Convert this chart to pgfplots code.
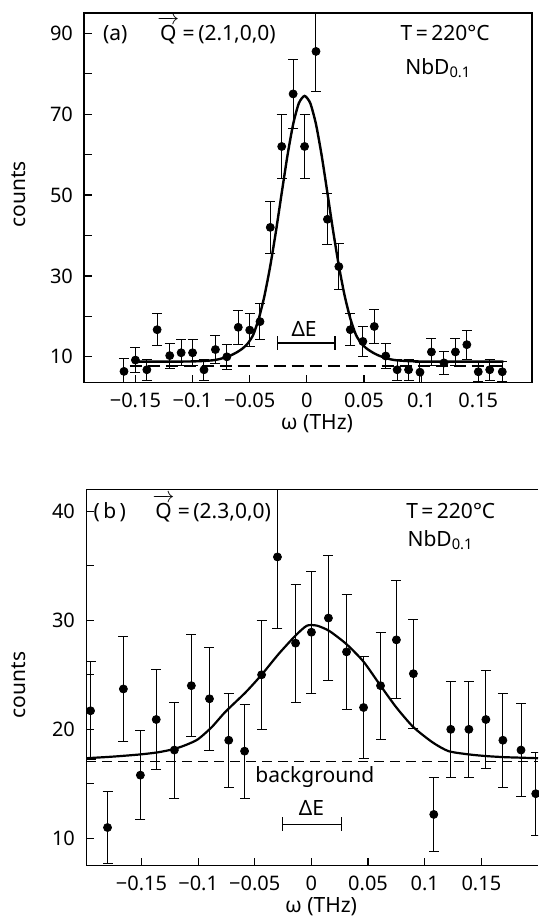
\documentclass[border=0pt]{standalone}
\usepackage{fontspec}
\setmainfont{Noto Sans}
\usepackage{amsmath}
\usepackage{pgfplots}
\pgfplotsset{compat=1.18}

\pgfplotsset{
  panel/.style={
    scale only axis,
    font=\fontsize{10.5}{12}\selectfont,
    tick label style={font=\fontsize{10}{11}\selectfont},
    /pgf/number format/assume math mode=true,
    tick align=inside,
    major tick length=4pt, minor tick length=4pt,
    tick style={line width=0.6pt, black},
    axis line style={line width=0.8pt},
    xtick pos=left, ytick pos=left,
    xtick={-0.15,-0.1,-0.05,0,0.05,0.1,0.15},
    xticklabels={−0.15,−0.1,−0.05,0,0.05,0.1,0.15},
    xticklabel style={yshift=-1.5pt},
    yticklabel style={xshift=-2pt},
    xlabel={ω (THz)}, ylabel={counts},
    xlabel style={at={(axis description cs:0.52,0)}, anchor=center, yshift=-20.3pt},
  },
  pts/.style={only marks, mark=*, mark size=2pt, black,
    error bars/.cd, y dir=both, y explicit,
    error bar style={line width=0.5pt},
    error mark=|,
    error mark options={mark size=2.5pt, line width=0.5pt}},
}

\begin{document}
\begin{tikzpicture}
\useasboundingbox (0,0) rectangle (269pt,459pt);

% (a)
\begin{axis}[panel,
  at={(42pt,267.65pt)}, anchor=south west,
  width=224pt, height=184.85pt,
  xmin=-0.195, xmax=0.197, ymin=3.6, ymax=95,
  ytick={10,30,50,70,90}, minor ytick={20,40,60,80},
  ylabel style={at={(axis description cs:-0.145,0.51)}, anchor=center},
]
\addplot[pts] table[x=x, y=y, y error=e] {
x y e
-0.160 6.4 3.2
-0.150 9.2 3.0
-0.140 6.8 2.6
-0.131 16.7 4.0
-0.120 10.3 3.1
-0.110 11.0 3.2
-0.100 11.0 3.2
-0.090 6.8 2.6
-0.080 11.8 3.4
-0.070 10.0 3.1
-0.060 17.3 4.2
-0.050 16.6 4.0
-0.041 18.7 4.5
-0.032 42.0 6.4
-0.022 62.0 7.8
-0.012 75.0 8.5
-0.002 62.0 7.8
0.008 85.5 9.8
0.018 44.0 6.3
0.028 32.3 5.6
0.038 16.7 4.0
0.049 13.8 3.7
0.059 17.5 4.2
0.069 10.2 3.1
0.079 6.8 2.6
0.089 6.8 2.6
0.099 6.2 2.5
0.109 11.2 3.3
0.120 8.5 2.9
0.130 11.2 3.3
0.140 13.0 3.6
0.150 6.3 2.5
0.160 6.8 2.6
0.171 6.3 2.5
};
\addplot[black, line width=1.2pt, smooth, tension=0.4] coordinates {
(-0.147,8.8) (-0.122,8.8) (-0.102,8.85) (-0.092,8.95) (-0.082,9.15)
(-0.077,9.4) (-0.072,9.8) (-0.067,10.3) (-0.062,11.0) (-0.057,11.9)
(-0.052,13.2) (-0.047,15.4) (-0.042,19.5) (-0.037,25.2) (-0.032,32.5)
(-0.027,41.1) (-0.022,50.5) (-0.017,59.7) (-0.012,67.5) (-0.007,72.7)
(-0.002,74.5) (0.003,72.7) (0.008,67.5) (0.013,59.7) (0.018,50.5)
(0.023,41.1) (0.028,32.5) (0.033,25.2) (0.038,19.5) (0.043,15.4)
(0.048,13.2) (0.053,11.9) (0.058,11.0) (0.063,10.3) (0.068,9.8)
(0.073,9.4) (0.078,9.15) (0.088,8.95) (0.098,8.85) (0.118,8.8) (0.172,8.8)
};
\addplot[black, line width=0.8pt, dash pattern=on 6pt off 3pt] coordinates {(-0.155,7.8) (0.175,7.8)};
\draw[line width=0.7pt, |-|] (axis cs:-0.0262,13.4) -- (axis cs:0.0253,13.4);
\node at (axis cs:-0.0024,16.8) {ΔE};
\node[anchor=base] at (axis cs:-0.1676,88.3) {(a)};
\node[anchor=base] at (axis cs:-0.079,88.3) {$\overrightarrow{\text{Q}}$\,=\,(2.1,0,0)};
\node[anchor=base] at (axis cs:0.121,88.3) {T\,=\,220°C};
\node[anchor=base] at (axis cs:0.115,79.9) {NbD\textsubscript{0.1}};
\end{axis}

% (b)
\begin{axis}[panel,
  at={(43pt,26.15pt)}, anchor=south west,
  width=226pt, height=188.2pt,
  xmin=-0.199, xmax=0.2, ymin=7.5, ymax=42,
  ytick={10,20,30,40}, minor ytick={15,25,35},
  axis line style={draw=none},
  ylabel style={at={(axis description cs:-0.148,0.48)}, anchor=center},
]
\draw[line width=0.8pt] (rel axis cs:1,1) -- (rel axis cs:0,1) -- (rel axis cs:0,0) -- (rel axis cs:1,0);
\addplot[pts] table[x=x, y=y, y error=e] {
x y e
-0.195 21.7 4.5
-0.180 11.0 3.3
-0.166 23.7 4.8
-0.151 15.8 4.1
-0.137 20.9 4.6
-0.121 18.1 4.4
-0.106 24.0 4.7
-0.090 22.8 4.7
-0.073 19.0 4.3
-0.059 18.0 4.3
-0.044 25.0 5.0
-0.030 35.8 6.6
-0.014 27.9 5.4
0.000 28.9 5.6
0.015 30.2 5.7
0.031 27.1 5.3
0.046 22.0 4.7
0.061 24.0 4.9
0.075 28.2 5.4
0.090 25.1 5.0
0.108 12.2 3.4
0.123 20.0 4.4
0.139 20.0 4.4
0.154 20.9 4.5
0.169 19.0 4.3
0.185 18.1 4.3
0.198 14.1 3.8
};
\addplot[black, line width=1.1pt, smooth, tension=0.4] coordinates {
(-0.199,17.35) (-0.175,17.5) (-0.151,17.7) (-0.135,17.9) (-0.121,18.2)
(-0.110,18.6) (-0.100,19.1) (-0.088,20.2) (-0.076,21.6) (-0.058,23.4)
(-0.044,25.0) (-0.029,26.9) (-0.014,28.6) (-0.004,29.5) (0.005,29.5)
(0.016,29.0) (0.031,27.8) (0.046,26.2) (0.061,24.0) (0.075,22.0)
(0.090,20.2) (0.107,18.8) (0.121,18.0) (0.139,17.7) (0.154,17.55)
(0.170,17.45) (0.185,17.4) (0.200,17.35)
};
\addplot[black, line width=0.9pt, dash pattern=on 5pt off 3pt] coordinates {(-0.199,17.05) (0.2,17.05)};
\node at (axis cs:0.003,15.6) {background};
\draw[line width=0.7pt, |-|] (axis cs:-0.026,11.3) -- (axis cs:0.0274,11.3);
\node at (axis cs:0.0,12.8) {ΔE};
\node[anchor=base] at (axis cs:-0.178,39.35) {(\,b\,)};
\node[anchor=base] at (axis cs:-0.088,39.35) {$\overrightarrow{\text{Q}}$\,=\,(2.3,0,0)};
\node[anchor=base] at (axis cs:0.123,39.35) {T\,=\,220°C};
\node[anchor=base] at (axis cs:0.114,36.75) {NbD\textsubscript{0.1}};
\end{axis}
\end{tikzpicture}
\end{document}
